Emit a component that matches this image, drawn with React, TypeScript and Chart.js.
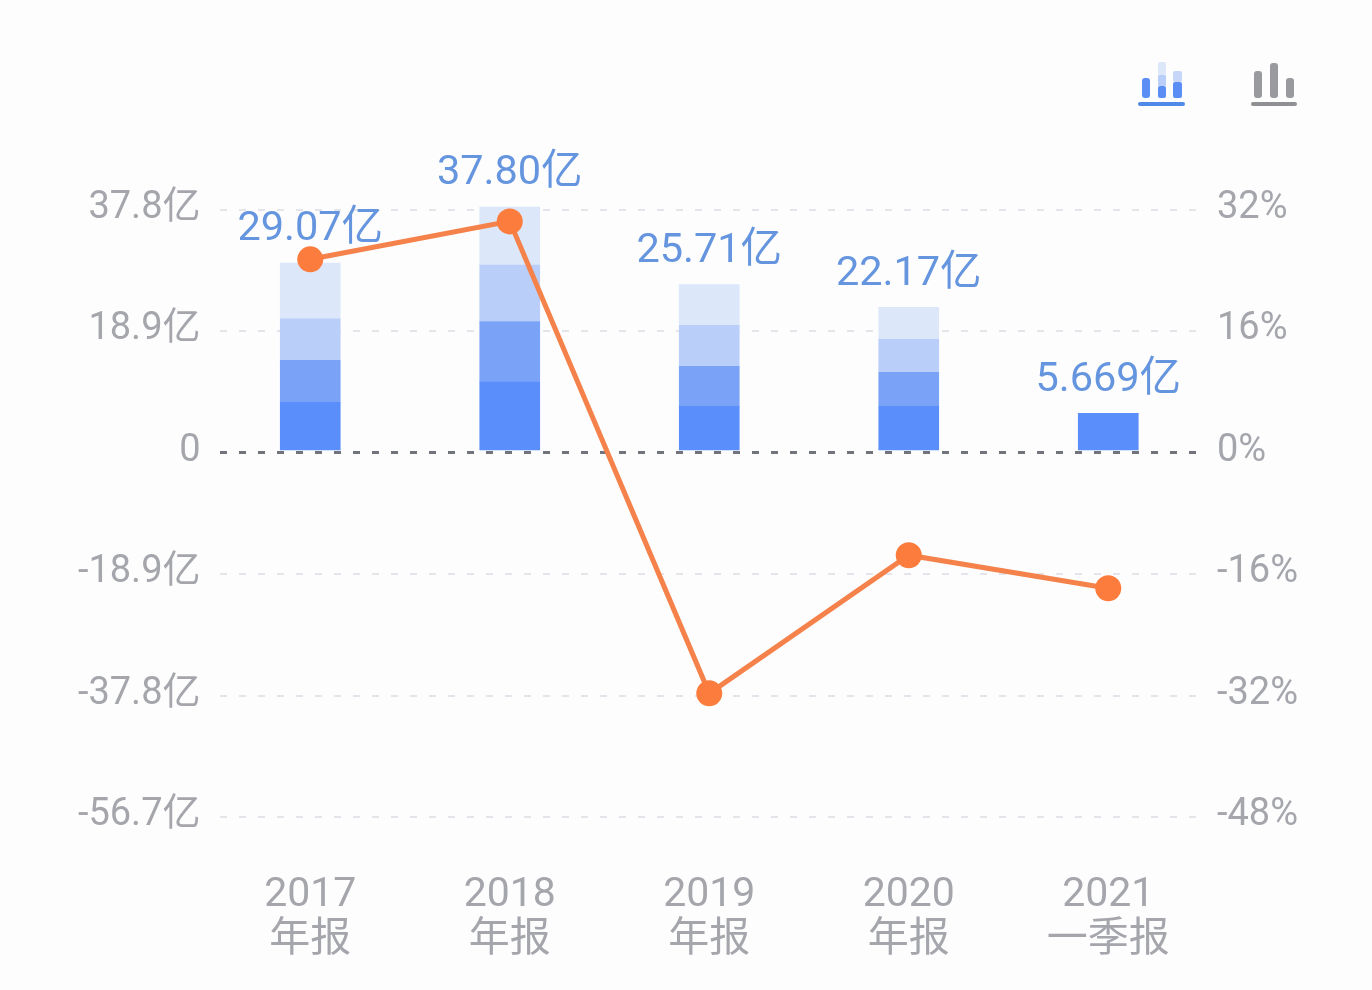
import React, { useEffect, useRef } from "react";
import { Chart, registerables } from "chart.js";

Chart.register(...registerables);

const categories = [["2017", "年报"], ["2018", "年报"], ["2019", "年报"], ["2020", "年报"], ["2021", "一季报"]];
const firstQuarter = [7.4, 10.56, 6.78, 6.78, 5.669];
const secondQuarter = [6.54, 9.41, 6.22, 5.29, 0];
const thirdQuarter = [6.46, 8.77, 6.39, 5.14, 0];
const fourthQuarter = [8.67, 9.06, 6.32, 4.96, 0];
const totals = [29.07, 37.8, 25.71, 22.17, 5.669];
const totalLabels = ["29.07亿", "37.80亿", "25.71亿", "22.17亿", "5.669亿"];
const growth = [25.5, 30.5, -31.7, -13.5, -17.85];
const leftTicks = [37.8, 18.9, 0, -18.9, -37.8, -56.7];
const leftTickLabels = ["37.8亿", "18.9亿", "0", "-18.9亿", "-37.8亿", "-56.7亿"];
const rightTicks = [32, 16, 0, -16, -32, -48];
const rightTickLabels = ["32%", "16%", "0%", "-16%", "-32%", "-48%"];

const FONT = "Roboto, 'Noto Sans CJK SC', sans-serif";
const BG = "#fdfdfe";

const barLabels = {
  id: "barLabels",
  afterDatasetsDraw(chart: any) {
    const { ctx, scales } = chart;
    ctx.save();
    ctx.font = `400 41.5px ${FONT}`;
    ctx.fillStyle = "#6595de";
    ctx.textAlign = "center";
    ctx.textBaseline = "middle";
    totals.forEach((v, i) => {
      ctx.fillText(totalLabels[i], scales.x.getPixelForValue(i), scales.yb.getPixelForValue(v) - 33);
    });
    ctx.restore();
  },
};

const gridEnds = {
  id: "gridEnds",
  beforeDatasetsDraw(chart: any) {
    const { ctx, chartArea: a } = chart;
    ctx.save();
    ctx.fillStyle = BG;
    ctx.fillRect(a.left - 1, a.top - 3, 9, a.bottom - a.top + 6);
    ctx.fillRect(a.right - 10, a.top - 3, 11, a.bottom - a.top + 6);
    ctx.restore();
  },
};

const barStyle = { type: "bar" as const, yAxisID: "yb", stack: "profit", barThickness: 60, clip: false as const, order: 2 };

function Icon({ x, y, w, h, c, r = 1 }: { x: number; y: number; w: number; h: number; c: string; r?: number }) {
  return <div style={{ position: "absolute", left: x, top: y, width: w, height: h, background: c, borderRadius: r }} />;
}

export default function App() {
  const ref = useRef<HTMLCanvasElement>(null);
  useEffect(() => {
    document.body.style.margin = "0";
    document.body.style.background = BG;
    const chart = new Chart(ref.current!, {
      type: "bar",
      data: {
        labels: categories as any,
        datasets: [
          { ...barStyle, label: "一季度", data: firstQuarter, backgroundColor: "#5a8ffb" },
          { ...barStyle, label: "二季度", data: secondQuarter, backgroundColor: "#7aa3f7" },
          { ...barStyle, label: "三季度", data: thirdQuarter, backgroundColor: "#b9cef8" },
          { ...barStyle, label: "四季度", data: fourthQuarter, backgroundColor: "#dde7fa" },
          {
            type: "line", label: "同比", data: growth, yAxisID: "yp", order: 1, clip: false,
            borderColor: "#f5824a", borderWidth: 5, tension: 0,
            pointRadius: 13, pointHoverRadius: 13, pointBackgroundColor: "#fb7c3c", pointBorderWidth: 0,
          },
        ] as any,
      },
      options: {
        animation: false,
        responsive: false,
        devicePixelRatio: 1,
        layout: { padding: { top: 210, left: 0, right: 0, bottom: 0 } },
        plugins: { legend: { display: false }, tooltip: { enabled: false } },
        scales: {
          x: {
            stacked: true,
            grid: { display: false, drawTicks: false },
            border: { display: false },
            ticks: { padding: 56, color: "#a4a6ac", maxRotation: 0, font: { family: FONT, size: 41, weight: "400", lineHeight: 1.1 } },
            afterFit: (s: any) => { s.height = 173; },
          },
          y: {
            position: "left", min: -56.7, max: 37.8,
            afterBuildTicks: (s: any) => { s.ticks = leftTicks.map((value) => ({ value })); },
            grid: {
              drawTicks: false,
              lineWidth: (c: any) => (c.tick && c.tick.value === 0 ? 3 : 2),
              color: (c: any) => (c.tick && c.tick.value === 0 ? "#72747c" : "#e4e5ea"),
            },
            border: { display: false, dash: [7, 12], dashOffset: 10 },
            ticks: {
              padding: 10, labelOffset: -1.5, color: "#a4a6ac",
              font: { family: FONT, size: 38, weight: "400" },
              callback: (_v: any, i: number) => leftTickLabels[i],
            },
            afterFit: (s: any) => { s.width = 210.5; },
          },
          yp: {
            position: "right", min: -48, max: 32,
            afterBuildTicks: (s: any) => { s.ticks = rightTicks.map((value) => ({ value })); },
            grid: { display: false, drawTicks: false },
            border: { display: false },
            ticks: {
              padding: 9, labelOffset: -1.5, color: "#a4a6ac",
              font: { family: FONT, size: 38, weight: "400" },
              callback: (_v: any, i: number) => rightTickLabels[i],
            },
            afterFit: (s: any) => { s.width = 164; },
          },
          yb: { display: false, stacked: true, min: -56.7 - 0.467, max: 37.8 - 0.467 },
        },
      } as any,
      plugins: [gridEnds, barLabels],
    });
    return () => chart.destroy();
  }, []);
  return (
    <div style={{ position: "relative", width: 1372, height: 990, background: BG, overflow: "hidden" }}>
      <canvas ref={ref} width={1372} height={990} style={{ display: "block" }} />
      <Icon x={1142} y={78} w={8} h={20} c="#5a8ef5" r={3} />
      <Icon x={1158} y={62} w={8} h={13} c="#dde7fa" r={2} />
      <Icon x={1158} y={75} w={8} h={11} c="#b9cef8" />
      <Icon x={1158} y={86} w={8} h={12} c="#5a8ef5" r={2} />
      <Icon x={1173} y={71} w={9} h={11} c="#c5d6f9" r={2} />
      <Icon x={1173} y={82} w={9} h={16} c="#5a8ef5" r={2} />
      <Icon x={1138} y={102} w={47} h={4} c="#4f8ae8" r={2} />
      <Icon x={1254} y={71} w={8} h={27} c="#999a9e" r={3} />
      <Icon x={1270} y={63} w={8} h={35} c="#999a9e" r={3} />
      <Icon x={1286} y={78} w={8} h={20} c="#999a9e" r={3} />
      <Icon x={1251} y={102} w={46} h={4} c="#8f9094" r={2} />
    </div>
  );
}
